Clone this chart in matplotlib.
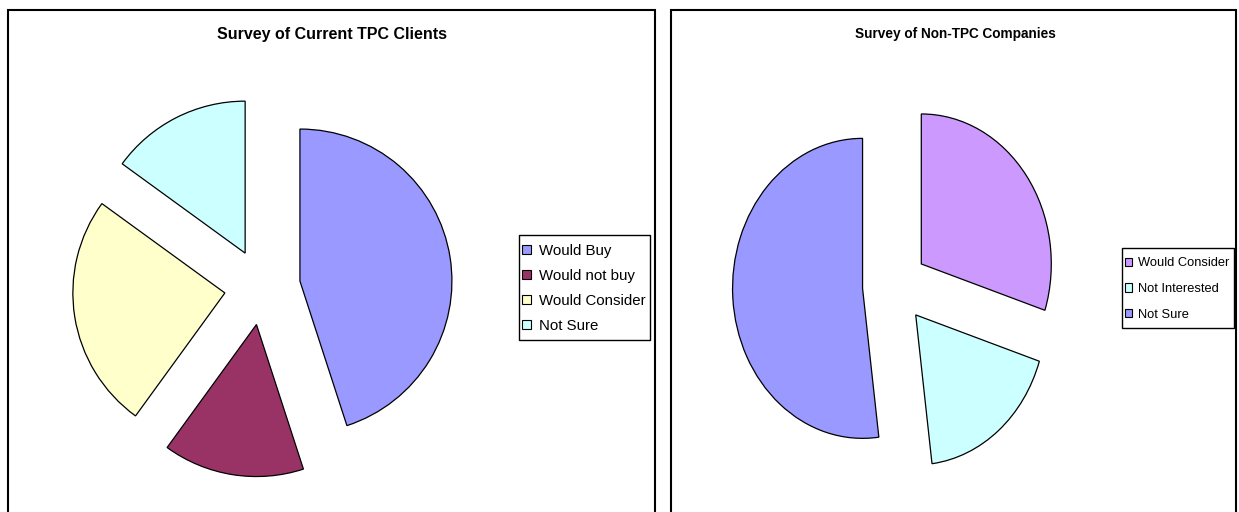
import matplotlib
matplotlib.use("Agg")
import matplotlib.pyplot as plt
from matplotlib.patches import Rectangle, Patch

plt.rcParams['font.family'] = ['Liberation Sans', 'DejaVu Sans']

W, H = 1239, 512

# ---- data ----
left_title = "Survey of Current TPC Clients"
left_labels = ["Would Buy", "Would not buy", "Would Consider", "Not Sure"]
left_values = [45, 15, 25, 15]
left_colors = ["#9999FF", "#993366", "#FFFFCC", "#CCFFFF"]

right_title = "Survey of Non-TPC Companies"
right_labels = ["Would Consider", "Not Interested", "Not Sure"]
right_values = [30, 18, 52]
right_colors = ["#CC99FF", "#CCFFFF", "#9999FF"]

fig = plt.figure(figsize=(W / 100, H / 100), dpi=100)
fig.patch.set_facecolor("white")


def pie_axes(cx, cy, rx, ry):
    """axes where unit radius maps to rx, ry pixels centred on (cx, cy) in screen px"""
    ax = fig.add_axes([(cx - 1.5 * rx) / W, (H - cy - 1.5 * ry) / H,
                       3 * rx / W, 3 * ry / H])
    return ax


def draw_pie(ax, values, colors, explode):
    ax.pie(values, colors=colors, startangle=90, counterclock=False,
           explode=[explode] * len(values), radius=1.0,
           wedgeprops=dict(edgecolor="black", linewidth=0.9))
    ax.set_aspect("auto")
    ax.set_xlim(-1.5, 1.5)
    ax.set_ylim(-1.5, 1.5)
    ax.axis("off")


# left pie
axL = pie_axes(262.4, 287, 152, 152)
draw_pie(axL, left_values, left_colors, 0.25)

# right pie (drawn slightly elliptical, as in the reference)
axR = pie_axes(895, 286, 130, 150)
draw_pie(axR, right_values, right_colors, 0.25)

# panel borders
for x0, x1 in [(8, 655), (671, 1236)]:
    fig.add_artist(Rectangle((x0 / W, -0.1), (x1 - x0) / W, (H - 10) / H + 0.1,
                             transform=fig.transFigure, fill=False,
                             edgecolor="black", linewidth=1.5))

# titles
fig.text(332 / W, 1 - 34.5 / H, left_title, ha="center", va="center",
         fontsize=11.5, fontweight="bold")
fig.text(955.5 / W, 1 - 34 / H, right_title, ha="center", va="center",
         fontsize=9.8, fontweight="bold")


def legend(labels, colors, x, y, fs, spacing, textpad, box):
    handles = [Patch(facecolor=c, edgecolor="black", linewidth=0.8) for c in colors]
    fig.legend(handles, labels, loc="upper left",
               bbox_to_anchor=(x / W, 1 - y / H),
               bbox_transform=fig.transFigure, borderaxespad=0,
               fontsize=fs, frameon=False,
               handlelength=0.58, handleheight=0.58, handletextpad=textpad,
               labelspacing=spacing, borderpad=0)
    bx0, by0, bx1, by1 = box
    fig.add_artist(Rectangle((bx0 / W, 1 - by1 / H), (bx1 - bx0) / W, (by1 - by0) / H,
                             transform=fig.transFigure, fill=False,
                             edgecolor="black", linewidth=1.0, zorder=0))


legend(left_labels, left_colors, 522, 243.5, 10.8, 0.74, 0.55, (519, 235, 650, 340))
legend(right_labels, right_colors, 1125, 257.5, 9.3, 1.05, 0.45, (1122, 248, 1234, 328))

fig.savefig("out.png", dpi=100, facecolor="white")
